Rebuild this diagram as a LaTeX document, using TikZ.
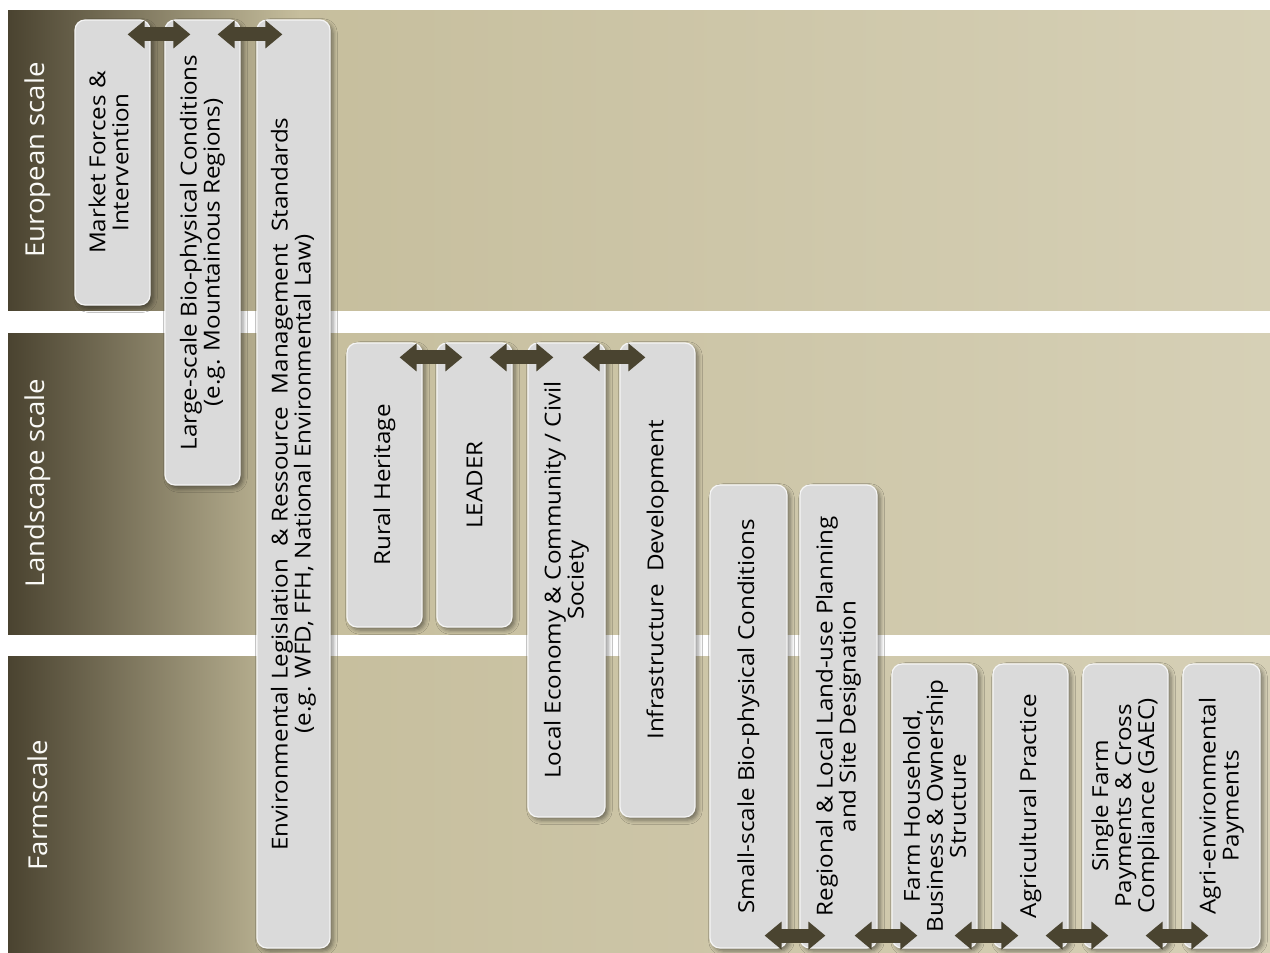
\documentclass[tikz,border=0pt]{standalone}
\usepackage{fontspec}
\setmainfont{Open Sans}
\usetikzlibrary{fit,arrows.meta,shadows.blur}

\definecolor{olivedark}{HTML}{4A4330}
\definecolor{olivemid}{HTML}{C6BE9D}
\definecolor{oliveright}{HTML}{D6D0B6}
\definecolor{boxgray}{HTML}{DADADA}
\definecolor{arrowbrown}{HTML}{4A4430}

\tikzset{
  box/.style={draw=white!92!gray, line width=.6pt, fill=boxgray, rounded corners=5pt,
    inner sep=0pt,
    blur shadow={shadow xshift=1.5pt, shadow yshift=-1.5pt, shadow blur steps=4, shadow opacity=45}},
  vlabel/.style={rotate=90, xscale=1.1, align=center, inner sep=0pt,
    font=\fontsize{11}{11.5}\selectfont},
  link/.style={line width=7pt, draw=arrowbrown,
    {Triangle[length=8.5pt,width=13.5pt]}-{Triangle[length=8.5pt,width=13.5pt]}},
  scalelabel/.style={text=white!92!olivemid, font=\fontsize{13}{15}\selectfont, rotate=90, xscale=1.06}
}

\begin{document}
\begin{tikzpicture}[x=.5pt,y=-.5pt]
  \useasboundingbox[fill=white] (0,0) rectangle (1270,953);

  \foreach \top/\bot in {10/310,333/634,656/953}{
    \shade[left color=olivedark, right color=olivemid] (8,\top) rectangle (300,\bot);
    \shade[left color=olivemid, right color=oliveright] (299,\top) rectangle (1270,\bot);
  }
  \node[scalelabel] (eu) at (38,160) {European scale};
  \node[scalelabel] (land) at (38,483) {Landscape scale};
  \node[scalelabel] (farm) at (38,805) {Farmscale};

  \node[box, fit={(75,20) (150,305)}] (mkt) {};
  \node[box, fit={(165,20) (240,485)}] (bio) {};
  \node[box, fit={(257,20) (330,948)}] (law) {};
  \node[box, fit={(347,343) (422,627)}] (heritage) {};
  \node[box, fit={(437,343) (512,627)}] (leader) {};
  \node[box, fit={(528,343) (605,817)}] (economy) {};
  \node[box, fit={(620,343) (695,817)}] (infra) {};
  \node[box, fit={(710,485) (787,948)}] (smallbio) {};
  \node[box, fit={(800,485) (877,948)}] (landuse) {};
  \node[box, fit={(892,664) (977,948)}] (household) {};
  \node[box, fit={(993,664) (1068,948)}] (practice) {};
  \node[box, fit={(1083,664) (1168,948)}] (payments) {};
  \node[box, fit={(1183,664) (1260,948)}] (agrienv) {};

  \node[vlabel] at ([xshift=-2pt]mkt.center) {Market Forces \&\\Intervention};
  \node[vlabel] at (bio.center) {Large-scale Bio-physical Conditions\\(e.g. Mountainous Regions)};
  \node[vlabel] at (law.center) {Environmental Legislation ~\& Ressource ~Management ~Standards\\(e.g. WFD, FFH, National Environmental Law)};
  \node[vlabel] at (heritage.center) {Rural Heritage};
  \node[vlabel] at (leader.center) {LEADER};
  \node[vlabel] at (economy.center) {Local Economy \& Community / Civil\\Society};
  \node[vlabel] at (infra.center) {Infrastructure ~Development};
  \node[vlabel] at (smallbio.center) {Small-scale Bio-physical Conditions};
  \node[vlabel] at (landuse.center) {Regional \& Local Land-use Planning\\and Site Designation};
  \node[vlabel] at (household.center) {Farm Household,\\Business \& Ownership\\Structure};
  \node[vlabel] at (practice.center) {Agricultural Practice};
  \node[vlabel] at (payments.center) {Single Farm\\Payments \& Cross\\Compliance (GAEC)};
  \node[vlabel] at (agrienv.center) {Agri-environmental\\Payments};

  \foreach \a/\b in {mkt/bio,bio/law,heritage/leader,leader/economy,economy/infra}
    \draw[link] ([xshift=-11.5pt,yshift=-7.5pt]\a.north east) -- ([xshift=13pt,yshift=-7.5pt]\b.north west);
  \foreach \a/\b in {smallbio/landuse,landuse/household,household/practice,practice/payments,payments/agrienv}
    \draw[link] ([xshift=-11.5pt,yshift=6.5pt]\a.south east) -- ([xshift=13pt,yshift=6.5pt]\b.south west);
\end{tikzpicture}
\end{document}
